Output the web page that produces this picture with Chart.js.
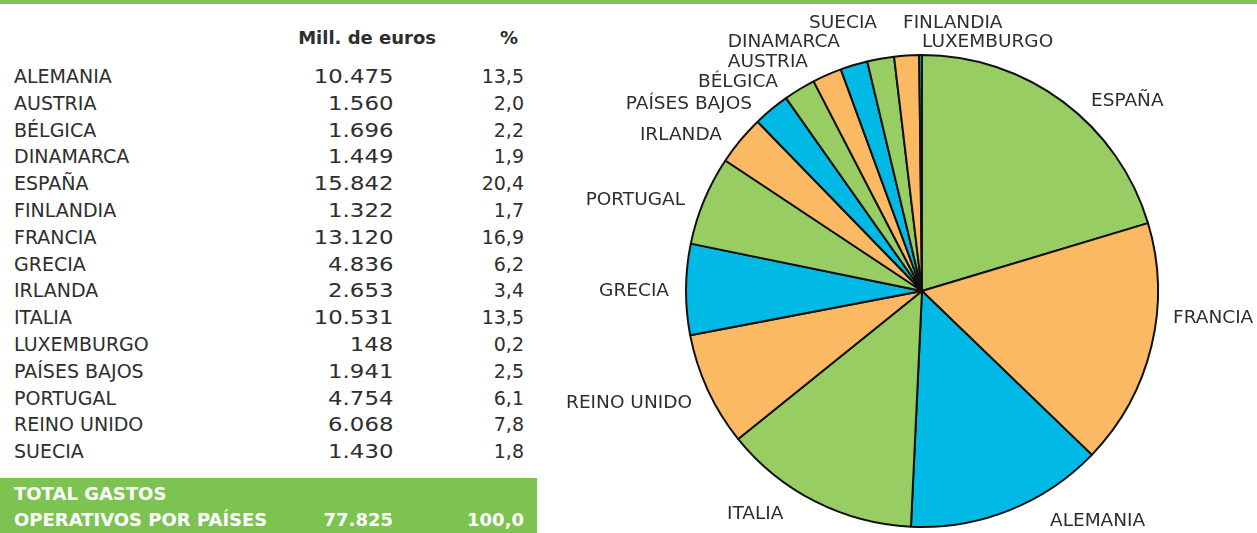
<!DOCTYPE html>
<html>
<head>
<meta charset="utf-8">
<script src="https://cdn.jsdelivr.net/npm/chart.js@4/dist/chart.umd.min.js"></script>
<style>
  html, body { margin: 0; padding: 0; background: #fff; }
  body { width: 1257px; height: 533px; position: relative; overflow: hidden; font-family: "DejaVu Sans", sans-serif; color: #2e2e2e; }
  #topbar { position: absolute; left: 0; top: 0; width: 1257px; height: 4px; background: #7dc352; }
  #tabla { position: absolute; left: 0; top: 0; width: 540px; height: 533px; }
  .row { position: absolute; left: 0; width: 537px; height: 27px; font-size: 19px; line-height: 27px; }
  .row span { position: absolute; white-space: nowrap; }
  .c1 { left: 14px; }
  .c2 { right: 144px; transform: scaleX(1.2); transform-origin: right center; }
  .c3 { right: 13px; }
  .head { font-weight: bold; font-size: 18px; }
  .head .c2 { right: 101px; transform: none; }
  #total { position: absolute; left: 0; top: 478px; width: 537px; height: 55px; background: #7dc352; color: #fff; font-weight: bold; font-size: 18px; }
  #total span { position: absolute; white-space: nowrap; line-height: 27px; }
  #pie { position: absolute; left: 540px; top: 0; width: 717px; height: 533px; }
</style>
</head>
<body>
<div id="topbar"></div>
<div id="tabla"></div>
<div id="pie"><canvas id="chartPie"></canvas></div>
<script>
const paises = ["ALEMANIA", "AUSTRIA", "BÉLGICA", "DINAMARCA", "ESPAÑA", "FINLANDIA", "FRANCIA", "GRECIA",
                "IRLANDA", "ITALIA", "LUXEMBURGO", "PAÍSES BAJOS", "PORTUGAL", "REINO UNIDO", "SUECIA"];
const gastos = [10475, 1560, 1696, 1449, 15842, 1322, 13120, 4836, 2653, 10531, 148, 1941, 4754, 6068, 1430];
const porcentajes = [13.5, 2.0, 2.2, 1.9, 20.4, 1.7, 16.9, 6.2, 3.4, 13.5, 0.2, 2.5, 6.1, 7.8, 1.8];
const totalGastos = 77825;
const totalPct = 100.0;

const colores = ["#98cd64", "#fbb963", "#00b9e4"];

// where each pie label sits, relative to the pie centre (px) and its text alignment
const labelPos = {
    "ESPAÑA": [169, -190, "left"],
    "FRANCIA": [251, 27, "left"],
    "ALEMANIA": [128, 230, "left"],
    "ITALIA": [-195, 223, "left"],
    "REINO UNIDO": [-230, 112, "right"],
    "GRECIA": [-253, 0, "right"],
    "PORTUGAL": [-237, -91, "right"],
    "IRLANDA": [-200, -156, "right"],
    "PAÍSES BAJOS": [-170, -187, "right"],
    "BÉLGICA": [-144, -209, "right"],
    "AUSTRIA": [-114, -229, "right"],
    "DINAMARCA": [-82, -249, "right"],
    "SUECIA": [-45, -268, "right"],
    "FINLANDIA": [-19, -268, "left"],
    "LUXEMBURGO": [0, -249, "left"]
};

const fmtMiles = v => v.toString().replace(/\B(?=(\d{3})+(?!\d))/g, ".");
const fmtPct = v => v.toFixed(1).replace(".", ",");

// table
const tabla = document.getElementById("tabla");
let html = `<div class="row head" style="top:24px"><span class="c2">Mill. de euros</span><span class="c3" style="right:19px">%</span></div>`;
paises.forEach((p, i) => {
    html += `<div class="row" style="top:${63 + i * 26.8}px"><span class="c1">${p}</span>` +
            `<span class="c2">${fmtMiles(gastos[i])}</span><span class="c3">${fmtPct(porcentajes[i])}</span></div>`;
});
tabla.innerHTML = html;
const total = document.createElement("div");
total.id = "total";
total.innerHTML = `<span style="left:14px;top:2px">TOTAL GASTOS</span>` +
    `<span style="left:14px;top:28px">OPERATIVOS POR PAÍSES</span>` +
    `<span style="right:144px;top:28px">${fmtMiles(totalGastos)}</span>` +
    `<span style="right:13px;top:28px">${fmtPct(totalPct)}</span>`;
document.body.appendChild(total);

// pie order: biggest first, clockwise from the top
const orden = paises.map((p, i) => i).sort((a, b) => gastos[b] - gastos[a]);
const pieLabels = orden.map(i => paises[i]);
const pieValues = orden.map(i => gastos[i]);
const pieColors = pieLabels.map((p, i) => colores[i % 3]);

const labelsPlugin = {
    id: "pieLabels",
    afterDraw(chart) {
        const arc = chart.getDatasetMeta(0).data[0];
        if (!arc) return;
        const ctx = chart.ctx;
        ctx.save();
        ctx.font = "18.5px 'DejaVu Sans'";
        ctx.fillStyle = "#2e2e2e";
        ctx.textBaseline = "middle";
        chart.data.labels.forEach(l => {
            const pos = labelPos[l];
            ctx.textAlign = pos[2];
            ctx.fillText(l, arc.x + pos[0], arc.y + pos[1]);
        });
        ctx.restore();
    }
};

const chart = new Chart(document.getElementById("chartPie").getContext("2d"), {
    type: "pie",
    data: {
        labels: pieLabels,
        datasets: [{
            data: pieValues,
            backgroundColor: pieColors,
            borderColor: "#111",
            borderWidth: 2
        }]
    },
    options: {
        responsive: true,
        maintainAspectRatio: false,
        animation: false,
        layout: { padding: { left: 100, right: 53, top: 54, bottom: 5 } },
        plugins: {
            legend: { display: false },
            tooltip: { enabled: false }
        }
    },
    plugins: [labelsPlugin]
});
</script>
</body>
</html>
